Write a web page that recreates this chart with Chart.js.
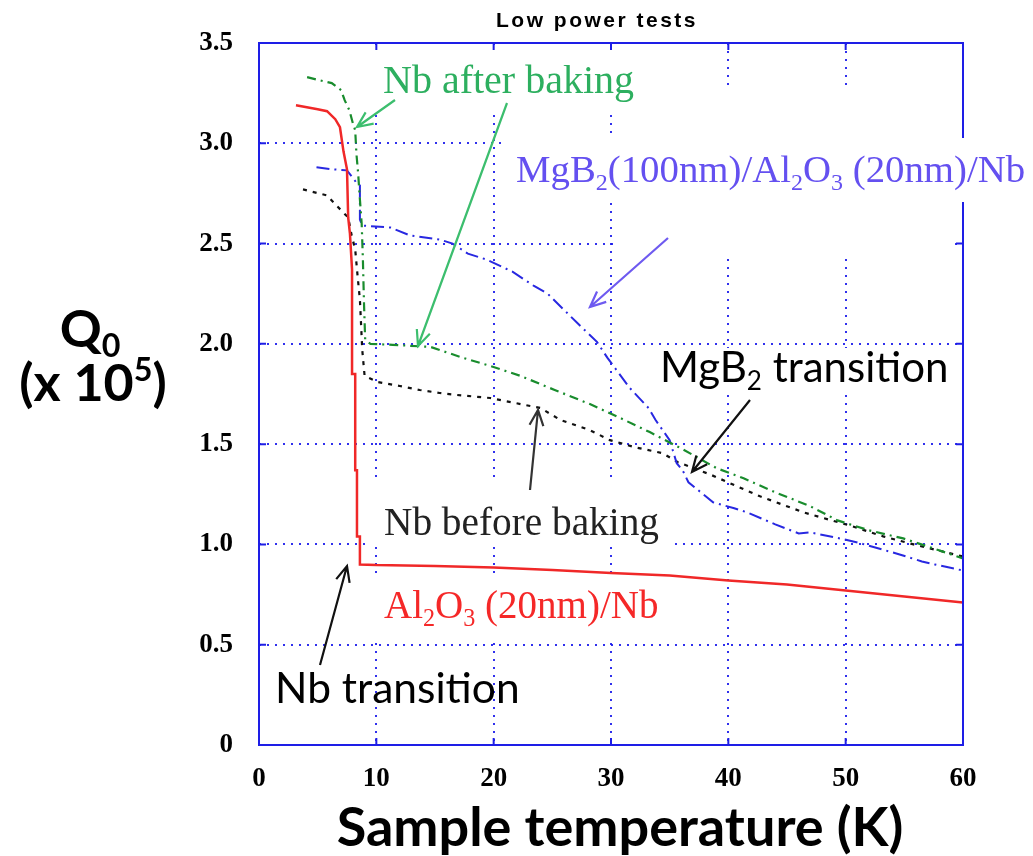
<!DOCTYPE html>
<html>
<head>
<meta charset="utf-8">
<script src="https://cdn.jsdelivr.net/npm/chart.js@4"></script>
<style>body{margin:0;background:#fff}</style>
</head>
<body>
<canvas id="grafico" width="1033" height="856"></canvas>
<script>
// dati (T in K, Q0 in unita di 1e5)
const redT = [3.15, 5.0, 5.8, 6.5, 6.9, 7.2, 7.5, 7.6, 7.75, 7.93, 7.93, 8.2, 8.2, 8.35, 8.35, 8.6, 8.6, 10, 15, 20, 25, 30, 35, 40, 45, 50, 55, 60];
const redQ = [3.19, 3.17, 3.16, 3.12, 3.08, 2.96, 2.87, 2.63, 2.55, 2.37, 1.85, 1.85, 1.37, 1.37, 1.04, 1.04, 0.9, 0.897, 0.893, 0.885, 0.872, 0.857, 0.845, 0.82, 0.80, 0.77, 0.74, 0.71];

const greenT = [4.1, 5.1, 6.2, 7.0, 7.3, 7.7, 8.0, 8.2, 8.3, 8.45, 8.6, 8.75, 8.85, 8.95, 9.05, 9.5, 11.4, 14.6, 17.4, 19.7, 22.3, 25.2, 28.2, 30.8, 33.3, 36.1, 39, 41.3, 44, 47, 49.3, 52, 54.9, 57.5, 60];
const greenQ = [3.33, 3.315, 3.30, 3.265, 3.215, 3.165, 3.10, 3.065, 2.95, 2.85, 2.72, 2.6, 2.43, 2.2, 2.02, 2.0, 1.995, 1.985, 1.93, 1.89, 1.84, 1.77, 1.70, 1.63, 1.56, 1.475, 1.38, 1.33, 1.26, 1.19, 1.12, 1.07, 1.03, 0.98, 0.93];

const blueT = [4.9, 6.3, 7.5, 8.35, 8.6, 8.6, 8.8, 11.2, 12.9, 15.4, 16.5, 17.8, 19.4, 21.6, 23.4, 24.6, 27.2, 28.8, 29.7, 31.6, 33.2, 33.8, 35.0, 35.6, 36.1, 36.6, 38.7, 40.5, 41.6, 44.0, 46.0, 47.0, 49.5, 51.0, 54.6, 56.5, 57.6, 60];
const blueQ = [2.88, 2.87, 2.865, 2.80, 2.79, 2.62, 2.59, 2.58, 2.54, 2.52, 2.50, 2.45, 2.42, 2.36, 2.29, 2.25, 2.10, 2.01, 1.93, 1.78, 1.68, 1.62, 1.52, 1.405, 1.37, 1.31, 1.21, 1.18, 1.16, 1.10, 1.055, 1.06, 1.03, 1.01, 0.95, 0.915, 0.90, 0.87];

const blackT = [3.75, 5.8, 6.6, 7.6, 7.9, 8.2, 8.4, 8.6, 8.8, 9.0, 10.1, 12, 13.7, 15.4, 16.9, 19.7, 22.7, 24, 25.7, 28.2, 29.9, 32, 34.4, 35.7, 38.4, 42.7, 46.4, 50.6, 53.2, 55.8, 60];
const blackQ = [2.77, 2.74, 2.69, 2.63, 2.54, 2.47, 2.34, 2.22, 1.97, 1.84, 1.81, 1.79, 1.77, 1.755, 1.745, 1.73, 1.695, 1.68, 1.62, 1.57, 1.52, 1.485, 1.455, 1.41, 1.35, 1.24, 1.16, 1.09, 1.04, 1.00, 0.94];

const xTicks = [0, 10, 20, 30, 40, 50, 60];
const yTicks = [0, 0.5, 1.0, 1.5, 2.0, 2.5, 3.0, 3.5];
const yEtichette = ['0', '0.5', '1.0', '1.5', '2.0', '2.5', '3.0', '3.5'];

const blu = 'rgb(30,30,230)';
const serif = '"Liberation Serif", "Times New Roman", serif';
const sans = 'Lato, "Liberation Sans", sans-serif';

function punti(t, q)
{
  let p = [];
  for (i = 0; i < t.length; i++) p.push({x: t[i], y: q[i]});
  return p;
}

// riquadri bianchi delle caselle di testo (coprono la griglia)
const riquadri = [
  [365, 50, 275, 60],
  [505, 138, 528, 64],
  [615, 88, 340, 170],
  [655, 348, 295, 45],
  [365, 483, 310, 64],
  [370, 579, 300, 61]
];

const frecce = [
  [395, 100, 357, 127, 'rgb(60,190,110)'],
  [507, 103, 418, 346, 'rgb(60,190,110)'],
  [668, 238, 590, 307, 'rgb(110,90,240)'],
  [750, 400, 692, 472, '#111'],
  [530, 490, 538, 410, '#333'],
  [320, 665, 347, 566, '#111']
];

// testi: parti [testo, 0 normale / 1 pedice / 2 apice], x, y baseline, font
const testi = [
  {parti: [['Nb after baking', 0]], x: 383, y: 93, size: 40, weight: 'normal', family: serif, color: 'rgb(45,175,95)'},
  {parti: [['MgB', 0], ['2', 1], ['(100nm)/Al', 0], ['2', 1], ['O', 0], ['3', 1], [' (20nm)/Nb', 0]], x: 516, y: 182, size: 38.8, weight: 'normal', family: serif, color: 'rgb(100,80,240)'},
  {parti: [['MgB', 0], ['2', 1], [' transition', 0]], x: 660, y: 382, size: 42, weight: 'normal', family: sans, color: '#000'},
  {parti: [['Nb before baking', 0]], x: 384, y: 535, size: 39.3, weight: 'normal', family: serif, color: '#222'},
  {parti: [['Al', 0], ['2', 1], ['O', 0], ['3', 1], [' (20nm)/Nb', 0]], x: 384, y: 618, size: 39, weight: 'normal', family: serif, color: 'rgb(245,40,40)'},
  {parti: [['Nb transition', 0]], x: 275, y: 703, size: 42.5, weight: 'normal', family: sans, color: '#000'},
  {parti: [['Q', 0], ['0', 1]], x: 90, y: 347, size: 52, weight: 'bold', family: sans, color: '#000', centro: true},
  {parti: [['(x 10', 0], ['5', 2], [')', 0]], x: 93, y: 401, size: 52, weight: 'bold', family: sans, color: '#000', centro: true},
  {parti: [['Sample temperature (K)', 0]], x: 620, y: 846, size: 54, weight: 'bold', family: sans, color: '#000', centro: true}
];

function larghezza(ctx, t)
{
  let w = 0;
  t.parti.forEach(p => {
    let s = p[1] ? t.size * 0.62 : t.size;
    ctx.font = t.weight + ' ' + s + 'px ' + t.family;
    w += ctx.measureText(p[0]).width;
  });
  return w;
}

function scriviTesto(ctx, t)
{
  let x = t.x;
  if (t.centro) x = t.x - larghezza(ctx, t) / 2;
  ctx.fillStyle = t.color;
  ctx.textBaseline = 'alphabetic';
  ctx.textAlign = 'left';
  t.parti.forEach(p => {
    let s = p[1] ? t.size * 0.62 : t.size;
    let dy = 0;
    if (p[1] == 1) dy = t.size * 0.2;
    if (p[1] == 2) dy = -t.size * 0.38;
    ctx.font = t.weight + ' ' + s + 'px ' + t.family;
    ctx.fillText(p[0], x, t.y + dy);
    x += ctx.measureText(p[0]).width;
  });
}

function freccia(ctx, x1, y1, x2, y2, colore)
{
  const ang = Math.atan2(y2 - y1, x2 - x1);
  const L = 17, a = 0.42;
  ctx.strokeStyle = colore;
  ctx.lineWidth = 2.2;
  ctx.setLineDash([]);
  ctx.beginPath();
  ctx.moveTo(x1, y1);
  ctx.lineTo(x2, y2);
  ctx.moveTo(x2 - L * Math.cos(ang - a), y2 - L * Math.sin(ang - a));
  ctx.lineTo(x2, y2);
  ctx.lineTo(x2 - L * Math.cos(ang + a), y2 - L * Math.sin(ang + a));
  ctx.stroke();
}

const decorazioni = {
  id: 'decorazioni',
  afterDatasetsDraw(chart)
  {
    const ctx = chart.ctx, a = chart.chartArea;
    const sx = chart.scales.x, sy = chart.scales.y;
    ctx.save();
    ctx.strokeStyle = blu;
    ctx.lineWidth = 2;
    ctx.setLineDash([]);
    ctx.strokeRect(a.left, a.top, a.right - a.left, a.bottom - a.top);
    ctx.beginPath();
    xTicks.forEach(v => {
      let px = sx.getPixelForValue(v);
      ctx.moveTo(px, a.bottom); ctx.lineTo(px, a.bottom - 7);
      ctx.moveTo(px, a.top); ctx.lineTo(px, a.top + 7);
    });
    yTicks.forEach(v => {
      let py = sy.getPixelForValue(v);
      ctx.moveTo(a.left, py); ctx.lineTo(a.left + 7, py);
      ctx.moveTo(a.right, py); ctx.lineTo(a.right - 7, py);
    });
    ctx.stroke();

    ctx.fillStyle = '#fff';
    riquadri.forEach(r => ctx.fillRect(r[0], r[1], r[2], r[3]));

    frecce.forEach(f => freccia(ctx, f[0], f[1], f[2], f[3], f[4]));

    testi.forEach(t => scriviTesto(ctx, t));

    ctx.fillStyle = '#000';
    ctx.font = 'bold 21px "Liberation Sans", Arial, sans-serif';
    ctx.textAlign = 'center';
    ctx.textBaseline = 'alphabetic';
    ctx.letterSpacing = '2.5px';
    ctx.fillText('Low power tests', 597, 27);
    ctx.restore();
  }
};

const ctx = document.getElementById('grafico');
const grafico = new Chart(ctx, {
  type: 'line',
  data: {
    datasets: [
      {label: 'Al2O3 (20nm)/Nb', data: punti(redT, redQ), borderColor: 'rgb(240,40,40)', borderWidth: 2.5},
      {label: 'Nb after baking', data: punti(greenT, greenQ), borderColor: 'rgb(25,140,45)', borderWidth: 2.2, borderDash: [9, 5, 2, 5]},
      {label: 'MgB2(100nm)/Al2O3 (20nm)/Nb', data: punti(blueT, blueQ), borderColor: 'rgb(40,40,225)', borderWidth: 2, borderDash: [13, 5, 2, 5]},
      {label: 'Nb before baking', data: punti(blackT, blackQ), borderColor: '#111', borderWidth: 2.2, borderDash: [4, 6]}
    ]
  },
  options: {
    responsive: false,
    animation: false,
    devicePixelRatio: 1,
    elements: {point: {radius: 0}, line: {tension: 0, fill: false}},
    layout: {padding: {top: 43, right: 70, left: 0, bottom: 0}},
    plugins: {legend: {display: false}, tooltip: {enabled: false}},
    scales: {
      x: {
        type: 'linear', min: 0, max: 60,
        afterFit: s => { s.height = 111; },
        afterBuildTicks: s => { s.ticks = xTicks.map(v => ({value: v})); },
        ticks: {color: '#000', padding: 18, maxRotation: 0, font: {family: serif, size: 27, weight: 'bold'}},
        grid: {color: 'rgba(25,25,235,0.9)', lineWidth: 2, drawTicks: false},
        border: {display: false, dash: [2, 6]}
      },
      y: {
        type: 'linear', min: 0, max: 3.5,
        afterFit: s => { s.width = 259; },
        afterBuildTicks: s => { s.ticks = yTicks.map(v => ({value: v})); },
        ticks: {color: '#000', padding: 26, font: {family: serif, size: 27, weight: 'bold'},
          callback: (v, i) => yEtichette[i]},
        grid: {color: 'rgba(25,25,235,0.9)', lineWidth: 2, drawTicks: false},
        border: {display: false, dash: [2, 6]}
      }
    }
  },
  plugins: [decorazioni]
});
</script>
</body>
</html>
